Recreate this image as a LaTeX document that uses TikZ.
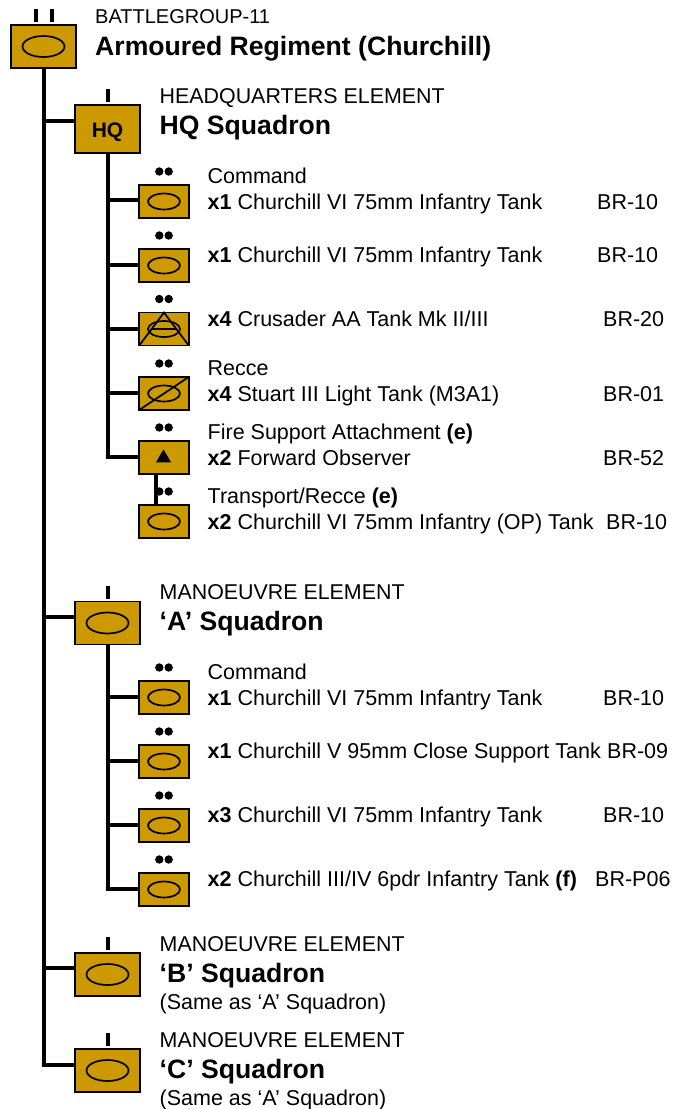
\documentclass[tikz,border=0pt]{standalone}
\usepackage{fontspec}
\setmainfont{Liberation Sans}
\usetikzlibrary{shapes.geometric}
\definecolor{unitfill}{HTML}{CC9900}
\tikzset{
  big/.style={draw=black,line width=1.8pt,fill=unitfill,minimum width=65pt,minimum height=43pt,inner sep=0pt,outer sep=0pt},
  small/.style={draw=black,line width=1.8pt,fill=unitfill,minimum width=49.5pt,minimum height=33pt,inner sep=0pt,outer sep=0pt},
  bigoval/.style={draw=black,line width=1.7pt,ellipse,minimum width=42pt,minimum height=21pt,inner sep=0pt},
  smalloval/.style={draw=black,line width=1.7pt,ellipse,minimum width=32pt,minimum height=16pt,inner sep=0pt},
  trunk/.style={line width=4pt,black},
  tick/.style={line width=4pt,black},
  pip/.style={circle,fill=black,minimum size=8.4pt,inner sep=0pt},
  lab/.style={anchor=base west,inner sep=0pt,font=\fontsize{21.5}{23}\selectfont},
  sub/.style={anchor=base west,inner sep=0pt,font=\fontsize{21.4}{23}\selectfont},
  title/.style={anchor=base west,inner sep=0pt,font=\fontsize{26.6}{29}\selectfont\bfseries},
  note/.style={anchor=base west,inner sep=0pt,font=\fontsize{21.5}{23}\selectfont},
}
\newcommand{\pips}[1]{\node[pip] at ([xshift=-4.7pt,yshift=13.5pt]#1.north) {};\node[pip] at ([xshift=4.7pt,yshift=13.5pt]#1.north) {};}
\newcommand{\onetick}[1]{\draw[tick] ([yshift=3pt]#1.north) -- ([yshift=16pt]#1.north);}
\begin{document}
\begin{tikzpicture}[x=1pt,y=-1pt]
\useasboundingbox (0,0) rectangle (684,1109);
\node[big] (top) at (43.5,46.5) {};
\node[big,minimum height=48pt] (hq) at (107.5,129) {};
\node[anchor=base,inner sep=0pt,font=\fontsize{21}{23}\selectfont\bfseries] (hqt) at (107.5,137) {HQ};
\node[small] (s1) at (164,201.5) {};
\node[small] (s2) at (164,265.5) {};
\node[small] (s3) at (164,329) {};
\node[small] (s4) at (164,393.5) {};
\node[small] (s5) at (164,457.5) {};
\node[small] (s6) at (164,521.5) {};
\node[big] (a) at (107.5,623) {};
\node[small] (a1) at (164,697.5) {};
\node[small] (a2) at (164,761.5) {};
\node[small] (a3) at (164,825.5) {};
\node[small] (a4) at (164,889.5) {};
\node[big] (b) at (107.5,974.5) {};
\node[big] (c) at (107.5,1070.5) {};
% trunks
\coordinate (t0) at (43.5,1065);
\draw[trunk,line join=miter] (top.south) -- (t0) -- (c.west |- t0);
\draw[trunk] (43.5,121) -- (hq.west |- 0,121);
\draw[trunk] (43.5,617) -- (a.west |- 0,617);
\draw[trunk] (43.5,968) -- (b.west |- 0,968);
\coordinate (h0) at (107.5,457);
\draw[trunk] (hq.south) -- (h0) -- (s5.west |- h0);
\draw[trunk] (107.5,200) -- (s1.west |- 0,200);
\draw[trunk] (107.5,265) -- (s2.west |- 0,265);
\draw[trunk] (107.5,329) -- (s3.west);
\draw[trunk] (107.5,393) -- (s4.west |- 0,393);
\draw[trunk] (s5.south -| 155.7,0) -- (s6.north -| 155.7,0);
\coordinate (a0) at (107.5,889);
\draw[trunk] (a.south) -- (a0) -- (a4.west |- a0);
\draw[trunk] (107.5,697) -- (a1.west |- 0,697);
\draw[trunk] (107.5,761) -- (a2.west |- 0,761);
\draw[trunk] (107.5,825) -- (a3.west |- 0,825);
% ovals
\node[bigoval] (ot) at (top.center) {};
\node[bigoval] (oa) at (a.center) {};
\node[bigoval] (ob) at (b.center) {};
\node[bigoval] (oc) at (c.center) {};
\foreach \n in {s1,s2,s3,s4,s6,a1,a2,a3,a4}{\node[smalloval] (o\n) at (\n.center) {};}
% symbols
\draw[line width=1.7pt] (s3.south west) -- (s3.north) -- (s3.south east);
\draw[line width=1.7pt] ([xshift=-12pt]s3.center) -- ([xshift=12pt]s3.center);
\draw[line width=1.7pt] (s4.south west) -- (s4.north east);
\node[isosceles triangle,isosceles triangle apex angle=60,shape border rotate=90,fill=black,minimum height=13pt,minimum width=15pt,inner sep=0pt] (tri) at (163.5,458) {};
% echelon
\draw[tick] (35.5,9) -- (35.5,22);
\draw[tick] (51.5,9) -- (51.5,22);
\onetick{hq}\onetick{a}\onetick{b}\onetick{c}
\foreach \n in {s1,s2,s3,s4,s5,s6,a1,a2,a3,a4}{\pips{\n}}
% text
\node[anchor=base west,inner sep=0pt,font=\fontsize{20}{22}\selectfont] (t1) at (95,23) {BATTLEGROUP-11};
\node[title] (t2) at (95,55) {Armoured Regiment (Churchill)};
\node[sub] (h1) at (159.5,103) {HEADQUARTERS ELEMENT};
\node[title] (h2) at (159.5,134) {HQ Squadron};
\node[lab] (l1a) at (207.5,183) {Command};
\node[lab] (l1) at (207.5,209) {\textbf{x1} Churchill VI 75mm Infantry Tank};
\node[lab] (r1) at (597,209) {BR-10};
\node[lab] (l2) at (207.5,262) {\textbf{x1} Churchill VI 75mm Infantry Tank};
\node[lab] (r2) at (597,262) {BR-10};
\node[lab] (l3) at (207.5,326) {\textbf{x4} Crusader AA Tank Mk II/III};
\node[lab] (r3) at (603,326) {BR-20};
\node[lab] (l4a) at (207.5,375) {Recce};
\node[lab] (l4) at (207.5,401) {\textbf{x4} Stuart III Light Tank (M3A1)};
\node[lab] (r4) at (603,401) {BR-01};
\node[lab] (l5a) at (207.5,439) {Fire Support Attachment \textbf{(e)}};
\node[lab] (l5) at (207.5,465) {\textbf{x2} Forward Observer};
\node[lab] (r5) at (603,465) {BR-52};
\node[lab] (l6a) at (207.5,503) {Transport/Recce \textbf{(e)}};
\node[lab] (l6) at (207.5,529) {\textbf{x2} Churchill VI 75mm Infantry (OP) Tank};
\node[lab] (r6) at (606,529) {BR-10};
\node[sub] (a1t) at (159.5,599) {MANOEUVRE ELEMENT};
\node[title] (a2t) at (159.5,630) {‘A’ Squadron};
\node[lab] (m1a) at (207.5,679) {Command};
\node[lab] (m1) at (207.5,705) {\textbf{x1} Churchill VI 75mm Infantry Tank};
\node[lab] (q1) at (603,705) {BR-10};
\node[lab] (m2) at (207.5,758) {\textbf{x1} Churchill V 95mm Close Support Tank};
\node[lab] (q2) at (607,758) {BR-09};
\node[lab] (m3) at (207.5,822) {\textbf{x3} Churchill VI 75mm Infantry Tank};
\node[lab] (q3) at (603,822) {BR-10};
\node[lab] (m4) at (207.5,886) {\textbf{x2} Churchill III/IV 6pdr Infantry Tank \textbf{(f)}};
\node[lab] (q4) at (595,886) {BR-P06};
\node[sub] (b1t) at (159.5,951) {MANOEUVRE ELEMENT};
\node[title] (b2t) at (159.5,982) {‘B’ Squadron};
\node[note] (b3t) at (159.5,1009) {(Same as ‘A’ Squadron)};
\node[sub] (c1t) at (159.5,1047) {MANOEUVRE ELEMENT};
\node[title] (c2t) at (159.5,1078) {‘C’ Squadron};
\node[note] (c3t) at (159.5,1105) {(Same as ‘A’ Squadron)};
\end{tikzpicture}
\end{document}
